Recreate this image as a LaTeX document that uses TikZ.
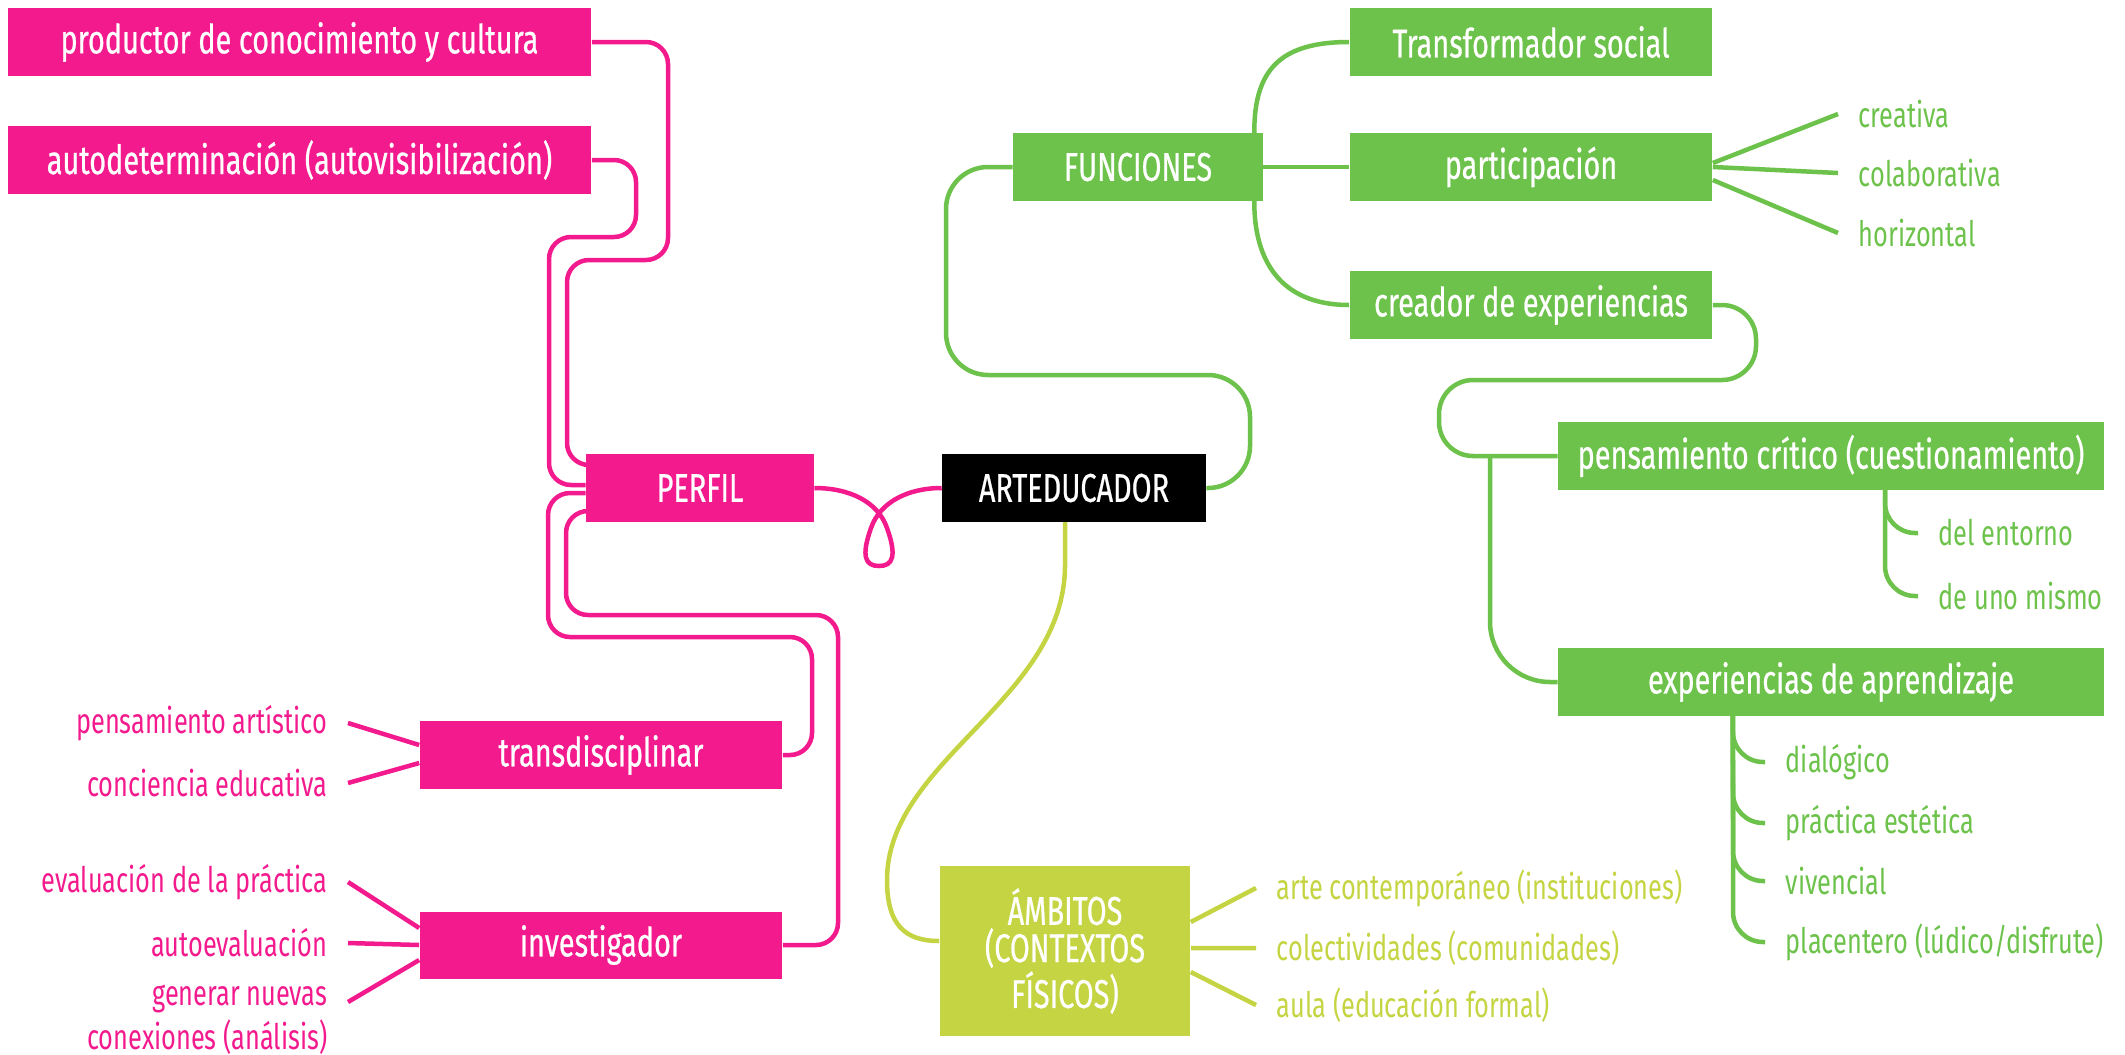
\documentclass[tikz,border=0pt]{standalone}
\usepackage{fontspec}
\setmainfont{Fira Sans}[FakeStretch=0.72]
\newfontfamily\boxfont{Fira Sans}[FakeStretch=0.72,FakeBold=0.6]
\usetikzlibrary{positioning}
\definecolor{artpink}{RGB}{243,26,141}
\definecolor{artgreen}{RGB}{108,194,74}
\definecolor{artlime}{RGB}{197,212,66}

\begin{document}
\begin{tikzpicture}[
  x=0.01cm, y=-0.01cm,
  font=\fontsize{10}{10}\selectfont,
  box/.style={rectangle, text=white, inner sep=0pt, minimum height=0.67cm, align=center,
              font=\boxfont\fontsize{11.4}{10.6}\selectfont},
  pbox/.style={box, fill=artpink},
  gbox/.style={box, fill=artgreen},
  leaf/.style={inner ysep=1pt, inner xsep=0.2cm},
  pleaf/.style={leaf, text=artpink, anchor=east, align=right},
  gleaf/.style={leaf, text=artgreen, anchor=west},
  lleaf/.style={leaf, text=artlime, anchor=west},
  plink/.style={draw=artpink, line width=0.045cm, rounded corners=0.22cm},
  glink/.style={draw=artgreen, line width=0.045cm, rounded corners=0.3cm},
  llink/.style={draw=artlime, line width=0.045cm}
]
\useasboundingbox (0,0) rectangle (2125,1054);
% centre
\node[box, fill=black, minimum width=2.63cm] (arted) at (1074,488) {ARTEDUCADOR};
% perfil
\node[pbox, minimum width=2.27cm] (perfil) at (700,488) {PERFIL};
\node[pbox, minimum width=5.83cm] (prod)  at (299.5,42)  {productor de conocimiento y cultura};
\node[pbox, minimum width=5.83cm] (autod) at (299.5,160) {autodeterminación (autovisibilización)};
\node[pbox, minimum width=3.62cm] (transd) at (601,755) {transdisciplinar};
\node[pbox, minimum width=3.62cm] (invest) at (601,945) {investigador};
\node[pleaf] (partis)  at (348,723)  {pensamiento artístico};
\node[pleaf] (concie)  at (348,783)  {conciencia educativa};
\node[pleaf] (evalu)   at (348,882)  {evaluación de la práctica};
\node[pleaf] (autoev)  at (348,943)  {autoevaluación};
\node[pleaf] (generar) at (348,1020) {generar nuevas\\[1pt]conexiones (análisis)};
% funciones
\node[gbox, minimum width=2.49cm] (func)    at (1138,167) {FUNCIONES};
\node[gbox, minimum width=3.62cm] (transf)  at (1531,42)  {Transformador social};
\node[gbox, minimum width=3.62cm] (partic)  at (1531,167) {participación};
\node[gbox, minimum width=3.62cm] (creador) at (1531,305) {creador de experiencias};
\node[gbox, minimum width=5.45cm] (pcrit)   at (1831,456) {pensamiento crítico (cuestionamiento)};
\node[gbox, minimum width=5.45cm] (exper)   at (1831,682) {experiencias de aprendizaje};
\node[gleaf] (crea)   at (1838,114) {creativa};
\node[gleaf] (colab)  at (1838,173) {colaborativa};
\node[gleaf] (horiz)  at (1838,233) {horizontal};
\node[gleaf] (entor)  at (1918,533) {del entorno};
\node[gleaf] (mismo)  at (1918,596) {de uno mismo};
\node[gleaf] (dial)   at (1765,762) {dialógico};
\node[gleaf] (prac)   at (1765,823) {práctica estética};
\node[gleaf] (viven)  at (1765,881) {vivencial};
\node[gleaf] (placen) at (1765,942) {placentero (lúdico/disfrute)};
% ambitos
\node[box, fill=artlime, minimum width=2.5cm, minimum height=1.69cm] (ambit) at (1065,951) {ÁMBITOS\\(CONTEXTOS\\FÍSICOS)};
\node[lleaf] (arte)  at (1256,888)  {arte contemporáneo (instituciones)};
\node[lleaf] (colec) at (1256,948)  {colectividades (comunidades)};
\node[lleaf] (aula)  at (1256,1005) {aula (educación formal)};

% pink links
\draw[plink] (prod.east) -- (668,42) -- (668,260) -- (567,260) -- (567,465) -- ([yshift=0.23cm]perfil.west);
\draw[plink] (autod.east) -- (636,160) -- (636,237) -- (549,237) -- (549,485) -- ([yshift=0.03cm]perfil.west);
\draw[plink] ([yshift=-0.05cm]perfil.west) -- (548,493) -- (548,637) -- (812,637) -- (812,755) -- (transd.east);
\draw[plink] ([yshift=-0.23cm]perfil.west) -- (566,511) -- (566,615) -- (838,615) -- (838,945) -- (invest.east);
\draw[plink, sharp corners] (perfil.east) .. controls (850,488) and (878,502) .. (887,528)
  .. controls (897,556) and (893,566) .. (879,566)
  .. controls (865,566) and (861,556) .. (871,528)
  .. controls (880,502) and (908,488) .. (arted.west);
\draw[plink] (partis.east) -- ([yshift=0.10cm]transd.west);
\draw[plink] (concie.east) -- ([yshift=-0.08cm]transd.west);
\draw[plink] (evalu.east) -- ([yshift=0.17cm]invest.west);
\draw[plink] (autoev.east) -- (invest.west);
\draw[plink] ([yshift=0.18cm]generar.east) -- ([yshift=-0.15cm]invest.west);

% green links
\draw[glink, rounded corners=0.42cm] (arted.east) -- (1250,488) -- (1250,375) -- (946,375) -- (946,167) -- (func.west);
\draw[glink] ([xshift=-0.09cm]func.north east) .. controls (1254,70) and (1280,42) .. (transf.west);
\draw[glink] (func.east) -- (partic.west);
\draw[glink] ([xshift=-0.09cm]func.south east) .. controls (1254,260) and (1280,305) .. (creador.west);
\draw[glink] ([yshift=0.04cm]partic.east) -- (crea.west);
\draw[glink] (partic.east) -- (colab.west);
\draw[glink] ([yshift=-0.13cm]partic.east) -- (horiz.west);
\draw[glink, rounded corners=0.34cm] (creador.east) -- (1756,305) -- (1756,380) -- (1439,380) -- (1439,456) -- (pcrit.west);
\coordinate (fork) at (1490,456);
\draw[glink, rounded corners=0.6cm] (fork) -- (1490,682) -- (exper.west);
\draw[glink] ([xshift=0.54cm]pcrit.south) -- (1885,533) -- (entor.west);
\draw[glink] ([xshift=0.54cm]pcrit.south) -- (1885,596) -- (mismo.west);
\draw[glink] ([xshift=-0.98cm]exper.south) -- (1733,762) -- (dial.west);
\draw[glink] ([xshift=-0.98cm]exper.south) -- (1733,823) -- (prac.west);
\draw[glink] ([xshift=-0.98cm]exper.south) -- (1733,881) -- (viven.west);
\draw[glink] ([xshift=-0.98cm]exper.south) -- (1733,942) -- (placen.west);

% lime links
\draw[llink] ([xshift=-0.09cm]arted.south) -- (1065,565) .. controls (1065,700) and (887,760) .. (887,880)
  .. controls (887,925) and (905,941) .. ([yshift=0.1cm]ambit.west);
\draw[llink] ([yshift=0.29cm]ambit.east) -- (arte.west);
\draw[llink] ([yshift=0.03cm]ambit.east) -- (colec.west);
\draw[llink] ([yshift=-0.21cm]ambit.east) -- (aula.west);
\end{tikzpicture}
\end{document}
